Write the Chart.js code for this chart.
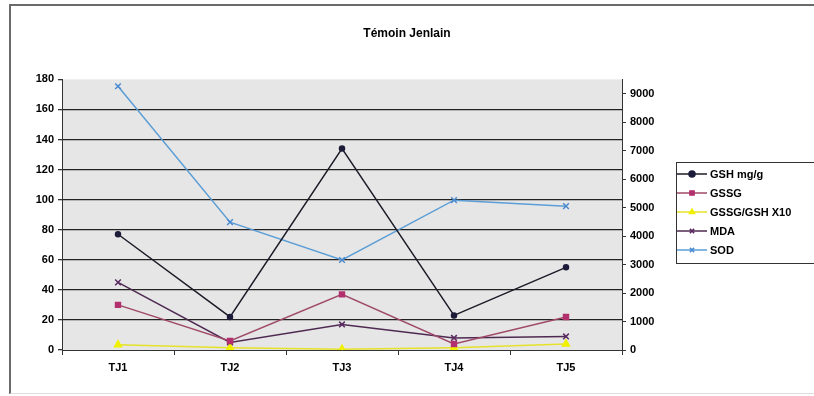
<!DOCTYPE html>
<html>
<head>
<meta charset="utf-8">
<script src="https://cdn.jsdelivr.net/npm/chart.js@4/dist/chart.umd.min.js"></script>
<style>
  html, body { margin: 0; padding: 0; background: #fff; }
  #wrap { position: relative; width: 814px; height: 396px; overflow: hidden; }
  #frame { position: absolute; left: 9px; top: 4px; width: 900px; height: 387px;
           border-top: 2px solid #6a6a6a; border-left: 2px solid #6a6a6a; border-bottom: 1px solid #ddd; }
  canvas#chart { position: absolute; left: 0; top: 0; }
  #legend { position: absolute; left: 676px; top: 162px; width: 150px; height: 102px;
            border: 1px solid #333; background: #fff; padding-top: 2px; box-sizing: border-box;
            font: bold 11px 'Liberation Sans', Arial, sans-serif; color: #000; }
  #legend .item { height: 19px; line-height: 19px; white-space: nowrap; }
  #legend canvas { vertical-align: middle; margin-right: 3px; margin-top: -2px; }
</style>
</head>
<body>
<div id="wrap">
  <div id="frame"></div>
  <canvas id="chart" width="814" height="396"></canvas>
  <div id="legend"></div>
</div>
<script>
var categories = ['TJ1', 'TJ2', 'TJ3', 'TJ4', 'TJ5'];
var gsh = [77, 22, 134, 23, 55];
var gssg = [30, 6, 37, 4, 22];
var ratioX10 = [3.5, 1.5, 0.5, 1.5, 4];
var mda = [45, 5, 17, 8, 9];
var sod = [9260, 4490, 3160, 5260, 5050];

var FONT = 'Liberation Sans, Arial, sans-serif';

var plotBg = {
  id: 'plotBg',
  beforeDraw: function (chart) {
    var a = chart.chartArea, ctx = chart.ctx;
    ctx.save();
    ctx.fillStyle = '#e6e6e6';
    ctx.fillRect(a.left, a.top, a.right - a.left, a.bottom - a.top);
    ctx.restore();
  }
};

function series(label, data, color, mcolor, style, axis, r) {
  return {
    label: label,
    data: data,
    yAxisID: axis,
    borderColor: color,
    backgroundColor: mcolor,
    pointBackgroundColor: mcolor,
    pointBorderColor: mcolor,
    pointStyle: style,
    pointRadius: r,
    pointBorderWidth: 1.5,
    borderWidth: 1.5,
    tension: 0
  };
}

var chart = new Chart(document.getElementById('chart'), {
  type: 'line',
  data: {
    labels: categories,
    datasets: [
      series('GSH mg/g', gsh, '#1c1c28', '#1c1c3a', 'circle', 'y', 2.5),
      series('GSSG', gssg, '#a04a6a', '#b3306e', 'rect', 'y', 3.5),
      series('GSSG/GSH X10', ratioX10, '#e6e22a', '#f0f000', 'triangle', 'y', 4),
      series('MDA', mda, '#4e2a52', '#5a2a60', 'crossRot', 'y', 4),
      series('SOD', sod, '#5c9ed6', '#4a8ad0', 'crossRot', 'y1', 4)
    ]
  },
  options: {
    responsive: false,
    animation: false,
    layout: { padding: { left: 0, right: 0, top: 0, bottom: 14 } },
    plugins: {
      title: {
        display: true,
        text: 'Témoin Jenlain',
        color: '#000',
        font: { family: FONT, size: 12, weight: 'bold' },
        padding: { top: 26, bottom: 39 }
      },
      legend: { display: false },
      tooltip: { enabled: false }
    },
    scales: {
      x: {
        offset: true,
        grid: { offset: true, drawOnChartArea: false, drawTicks: true, tickLength: 5, color: '#333' },
        border: { color: '#333', width: 1 },
        ticks: { color: '#000', font: { family: FONT, size: 11, weight: 'bold' }, padding: 6 },
        afterFit: function (s) { s.height = 32; }
      },
      y: {
        position: 'left',
        min: 0, max: 180,
        ticks: { stepSize: 20, color: '#000', font: { family: FONT, size: 11, weight: 'bold' }, padding: 4 },
        grid: {
          color: function (c) { return (c.tick && (c.tick.value === 180 || c.tick.value === 0)) ? 'rgba(0,0,0,0)' : '#222'; },
          tickColor: '#333', tickLength: 4, lineWidth: 1.3
        },
        border: { color: '#333', width: 1 },
        afterFit: function (s) { s.width = 62; }
      },
      y1: {
        position: 'right',
        min: 0, max: 9500,
        ticks: {
          stepSize: 500, autoSkip: false, color: '#000', font: { family: FONT, size: 11, weight: 'bold' }, padding: 4,
          callback: function (v) { return v % 1000 === 0 ? String(v) : ''; }
        },
        grid: {
          drawOnChartArea: false, tickLength: 4,
          tickColor: function (c) { return (c.tick && c.tick.value % 1000 === 0) ? '#333' : 'rgba(0,0,0,0)'; }
        },
        border: { color: '#333', width: 1 },
        // room for the legend box on the right
        afterFit: function (s) { s.width = 192; }
      }
    }
  },
  plugins: [plotBg]
});

// legend built from the chart's own datasets
var legend = document.getElementById('legend');
chart.data.datasets.forEach(function (ds) {
  var row = document.createElement('div');
  row.className = 'item';
  var c = document.createElement('canvas');
  c.width = 30; c.height = 10;
  var g = c.getContext('2d');
  g.strokeStyle = ds.borderColor; g.lineWidth = 1.5;
  g.beginPath(); g.moveTo(0, 5); g.lineTo(30, 5); g.stroke();
  g.fillStyle = ds.pointBackgroundColor; g.strokeStyle = ds.pointBorderColor;
  Chart.helpers.drawPoint(g, { pointStyle: ds.pointStyle, radius: 3, borderWidth: 1.5 }, 15, 5);
  row.appendChild(c);
  row.appendChild(document.createTextNode(ds.label));
  legend.appendChild(row);
});
</script>
</body>
</html>
